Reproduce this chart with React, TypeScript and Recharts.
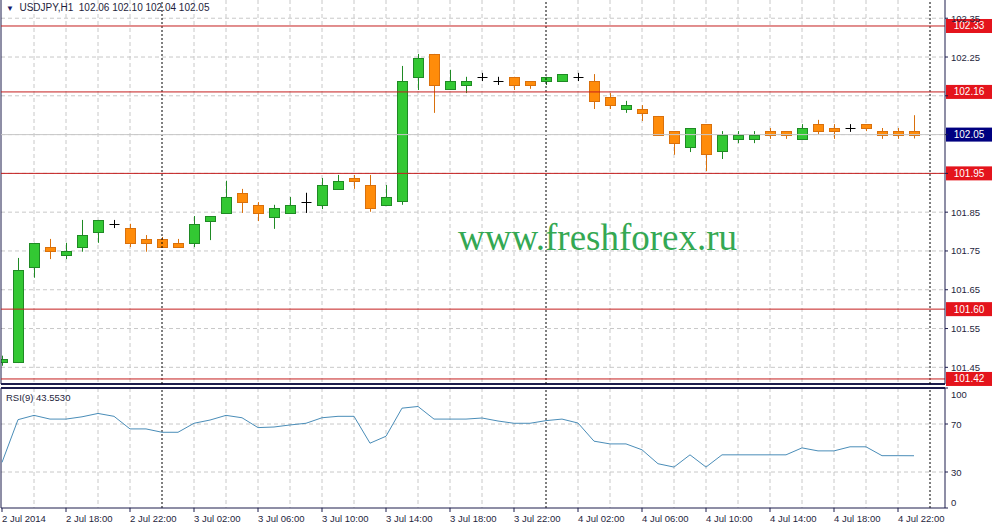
import { Bar, CartesianGrid, ComposedChart, Line, ReferenceLine, XAxis, YAxis } from "recharts"

const FONT = "'Liberation Sans', Arial, sans-serif"
const NAVY = "#1c1c4c"
const TEXT = "#1e1e3c"

// hourly bars, 2 Jul 2014 14:00 .. 4 Jul 2014 23:00
const opens = [
  101.464, 101.464, 101.709, 101.760, 101.740, 101.760, 101.799, 101.820, 101.809, 101.781,
  101.781, 101.771, 101.771, 101.827, 101.848, 101.900, 101.869, 101.838, 101.848, 101.876,
  101.869, 101.910, 101.938, 101.920, 101.869, 101.879, 102.199, 102.258, 102.168, 102.178,
  102.199, 102.188, 102.199, 102.188, 102.188, 102.188, 102.199, 102.188, 102.147, 102.116,
  102.116, 102.098, 102.059, 102.018, 102.077, 102.008, 102.039, 102.039, 102.059, 102.059,
  102.039, 102.077, 102.067, 102.067, 102.077, 102.059, 102.059, 102.060,
]
const highs = [
  101.480, 101.732, 101.771, 101.781, 101.771, 101.830, 101.830, 101.830, 101.820, 101.791,
  101.786, 101.781, 101.840, 101.840, 101.931, 101.910, 101.876, 101.869, 101.889, 101.900,
  101.938, 101.946, 101.946, 101.946, 101.920, 102.227, 102.258, 102.258, 102.217, 102.199,
  102.209, 102.199, 102.199, 102.188, 102.199, 102.206, 102.209, 102.206, 102.157, 102.137,
  102.126, 102.098, 102.059, 102.067, 102.077, 102.059, 102.059, 102.059, 102.067, 102.059,
  102.077, 102.088, 102.077, 102.077, 102.077, 102.067, 102.067, 102.100,
]
const lows = [
  101.454, 101.461, 101.681, 101.729, 101.729, 101.748, 101.771, 101.809, 101.760, 101.748,
  101.758, 101.758, 101.760, 101.778, 101.848, 101.848, 101.827, 101.807, 101.848, 101.848,
  101.858, 101.910, 101.910, 101.851, 101.869, 101.869, 102.165, 102.106, 102.168, 102.157,
  102.188, 102.178, 102.165, 102.168, 102.178, 102.188, 102.188, 102.116, 102.116, 102.106,
  102.085, 102.049, 101.998, 102.005, 101.956, 101.987, 102.028, 102.028, 102.039, 102.039,
  102.039, 102.049, 102.039, 102.057, 102.059, 102.039, 102.039, 102.040,
]
const closes = [
  101.472, 101.701, 101.771, 101.750, 101.750, 101.791, 101.830, 101.820, 101.771, 101.771,
  101.760, 101.760, 101.820, 101.840, 101.889, 101.876, 101.848, 101.861, 101.869, 101.876,
  101.920, 101.931, 101.931, 101.861, 101.889, 102.188, 102.248, 102.178, 102.188, 102.188,
  102.199, 102.188, 102.178, 102.178, 102.199, 102.206, 102.199, 102.137, 102.126, 102.126,
  102.106, 102.049, 102.028, 102.067, 102.000, 102.049, 102.049, 102.049, 102.049, 102.049,
  102.067, 102.059, 102.059, 102.067, 102.067, 102.049, 102.049, 102.050,
]
const rsiValues = [
  38, 73.6, 77.2, 74.1, 74.1, 76, 78.8, 76.4, 65.9, 65.9,
  63.1, 63.1, 70.6, 73.3, 77.2, 75.2, 67, 67.5, 69.2, 70.6,
  75.2, 76.4, 76.4, 54, 59.8, 83.2, 84.6, 74.1, 74.1, 74.1,
  75, 72.5, 70.6, 70.6, 72.8, 74.1, 70.8, 55.7, 53.4, 53.4,
  48.5, 36.9, 34.1, 44.3, 34.1, 44.3, 44.3, 44.3, 44.3, 44.3,
  50.1, 47.6, 47.6, 51, 51, 43.6, 43.6, 43.553,
]

const timeTicks = [0, 4, 8, 12, 16, 20, 24, 28, 32, 36, 40, 44, 48, 52, 56]
const timeLabels = [
  "2 Jul 2014", "2 Jul 18:00", "2 Jul 22:00", "3 Jul 02:00", "3 Jul 06:00", "3 Jul 10:00",
  "3 Jul 14:00", "3 Jul 18:00", "3 Jul 22:00", "4 Jul 02:00", "4 Jul 06:00", "4 Jul 10:00",
  "4 Jul 14:00", "4 Jul 18:00", "4 Jul 22:00",
]
const gridBars = [2, 4, 6, 8, 12, 14, 16, 18, 20, 22, 24, 26, 28, 30, 32, 36, 38, 40, 42, 44, 46, 48, 50, 52, 54, 56]
const daySeparators = [10, 34, 58]
const priceTicks = [101.45, 101.55, 101.65, 101.75, 101.85, 101.95, 102.05, 102.15, 102.25, 102.35]
const levels = [102.33, 102.16, 101.95, 101.6, 101.42]
const lastPrice = 102.05
const rsiTicks = [0, 30, 70, 100]

const xDomain = [-0.0625, 58.9375]
const priceDomain = [101.407, 102.397]

const candles = opens.map((open, i) => ({
  i,
  open,
  high: highs[i],
  low: lows[i],
  close: closes[i],
  range: [lows[i], highs[i]],
}))
const rsiData = rsiValues.map((rsi, i) => ({ i, rsi }))

// price labels hidden behind the coloured tags
const tagged = [...levels, lastPrice]
const isCovered = (v: number) => tagged.some((t) => Math.abs(t - v) < 0.015)

const Candle = (props: any) => {
  const { x, y, width, height, payload } = props
  if (!payload) return null
  const { open, close, high, low } = payload
  const top = Math.min(y, y + height)
  const k = Math.abs(height) / (high - low)
  const py = (v: number) => top + (high - v) * k
  const cx = Math.round(x + width / 2) + 0.5
  if (open === close) {
    const yy = Math.round(py(open)) + 0.5
    return (
      <g stroke="#000" strokeWidth={1}>
        <line x1={cx} x2={cx} y1={py(high)} y2={py(low)} />
        <line x1={cx - 5} x2={cx + 5} y1={yy} y2={yy} />
      </g>
    )
  }
  const bull = close > open
  const edge = bull ? "#1f8a24" : "#d9700c"
  const fill = bull ? "#33c833" : "#ff8c0a"
  const bt = Math.round(py(Math.max(open, close))) + 0.5
  const bb = Math.round(py(Math.min(open, close))) + 0.5
  return (
    <g>
      <line x1={cx} x2={cx} y1={py(high)} y2={py(low)} stroke={edge} strokeWidth={1} />
      <rect x={cx - 5} y={bt} width={10} height={Math.max(bb - bt, 1)} fill={fill} stroke={edge} strokeWidth={1} />
    </g>
  )
}

const PriceTag = (props: any) => {
  const { viewBox, txt, bg } = props
  if (!viewBox) return null
  const left = viewBox.x + viewBox.width + 1
  const y = viewBox.y
  return (
    <g>
      <rect x={left} y={y - 7} width={46} height={14} fill={bg} />
      <text x={left + 23} y={y + 3.5} textAnchor="middle" fill="#fff" fontSize={10} fontFamily={FONT}>
        {txt}
      </text>
    </g>
  )
}

const PriceTick = (props: any) => {
  const { x, y, payload } = props
  if (isCovered(payload.value)) return null
  return (
    <text x={x} y={y + 3.5} fill={TEXT} fontSize={9.5} fontFamily={FONT}>
      {Number(payload.value).toFixed(2)}
    </text>
  )
}

const RsiTick = (props: any) => {
  const { x, y, payload } = props
  const shift = payload.value === 100 ? 6 : payload.value === 0 ? -6 : 0
  return (
    <text x={x} y={y + 3.5 + shift} fill={TEXT} fontSize={9.5} fontFamily={FONT}>
      {payload.value}
    </text>
  )
}

const TimeTick = (props: any) => {
  const { x, y, payload } = props
  const label = timeLabels[timeTicks.indexOf(payload.value)]
  return (
    <text x={x} y={y + 8} fill={TEXT} fontSize={9.5} fontFamily={FONT}>
      {label}
    </text>
  )
}

export default function App() {
  return (
    <div style={{ position: "absolute", left: 0, top: 0, width: 993, height: 529, background: "#fff", overflow: "hidden", fontFamily: FONT }}>
      <div style={{ position: "absolute", left: 0, top: 0 }}>
        <ComposedChart width={993} height={387} data={candles} margin={{ top: 0, right: 0, left: 1, bottom: 3 }}>
          <CartesianGrid stroke="#c8c8c8" strokeDasharray="4 3" verticalValues={gridBars} horizontalValues={priceTicks} />
          <XAxis type="number" dataKey="i" domain={xDomain} allowDataOverflow hide />
          <YAxis
            orientation="right"
            width={48}
            type="number"
            domain={priceDomain}
            allowDataOverflow
            ticks={priceTicks}
            interval={0}
            tick={<PriceTick />}
            tickSize={3}
            tickMargin={3}
            axisLine={{ stroke: NAVY }}
            tickLine={{ stroke: NAVY }}
          />
          <ReferenceLine x={xDomain[0]} stroke={NAVY} ifOverflow="visible" />
          <ReferenceLine y={priceDomain[0]} stroke={NAVY} strokeWidth={2} ifOverflow="visible" />
          {daySeparators.map((d) => (
            <ReferenceLine key={d} x={d} stroke="#000" strokeDasharray="2 2" />
          ))}
          <ReferenceLine y={lastPrice} stroke="#c8c8c8" label={<PriceTag txt={lastPrice.toFixed(2)} bg="#000080" />} />
          {levels.map((lv) => (
            <ReferenceLine key={lv} y={lv} stroke="#c41e1e" label={<PriceTag txt={lv.toFixed(2)} bg="#e4141c" />} />
          ))}
          <Bar dataKey="range" barSize={10} shape={<Candle />} isAnimationActive={false} />
        </ComposedChart>
      </div>

      <div style={{ position: "absolute", left: 0, top: 386 }}>
        <ComposedChart width={993} height={143} data={rsiData} margin={{ top: 2, right: 0, left: 1, bottom: 0 }}>
          <CartesianGrid stroke="#c8c8c8" strokeDasharray="4 3" verticalValues={gridBars} horizontalValues={[30, 70]} />
          <XAxis
            type="number"
            dataKey="i"
            domain={xDomain}
            allowDataOverflow
            ticks={timeTicks}
            interval={0}
            tick={<TimeTick />}
            height={21}
            tickSize={4}
            tickMargin={2}
            axisLine={{ stroke: NAVY }}
            tickLine={{ stroke: NAVY }}
          />
          <YAxis
            orientation="right"
            width={48}
            type="number"
            domain={[0, 100]}
            ticks={rsiTicks}
            interval={0}
            tick={<RsiTick />}
            tickSize={3}
            tickMargin={3}
            axisLine={{ stroke: NAVY }}
            tickLine={{ stroke: NAVY }}
          />
          <ReferenceLine x={xDomain[0]} stroke={NAVY} ifOverflow="visible" />
          <ReferenceLine y={100} stroke={NAVY} strokeWidth={2} ifOverflow="visible" />
          {daySeparators.map((d) => (
            <ReferenceLine key={d} x={d} stroke="#000" strokeDasharray="2 2" />
          ))}
          <Line type="linear" dataKey="rsi" stroke="#4a8db8" strokeWidth={1} dot={false} isAnimationActive={false} />
        </ComposedChart>
      </div>

      <div style={{ position: "absolute", left: 6, top: 1, fontSize: 10, color: TEXT, whiteSpace: "pre", lineHeight: "13px" }}>
        <span style={{ color: "#1a1a6a", fontSize: 8 }}>▼</span>{"  USDJPY,H1  102.06 102.10 102.04 102.05"}
      </div>
      <div style={{ position: "absolute", left: 6, top: 391, fontSize: 9.5, color: TEXT, lineHeight: "13px" }}>
        RSI(9) 43.5530
      </div>
      <div
        style={{
          position: "absolute",
          left: 458,
          top: 219,
          fontFamily: "'Liberation Serif', 'Times New Roman', serif",
          fontSize: 37,
          lineHeight: "38px",
          color: "#34a853",
          whiteSpace: "nowrap",
          pointerEvents: "none",
        }}
      >
        www.freshforex.ru
      </div>
    </div>
  )
}
